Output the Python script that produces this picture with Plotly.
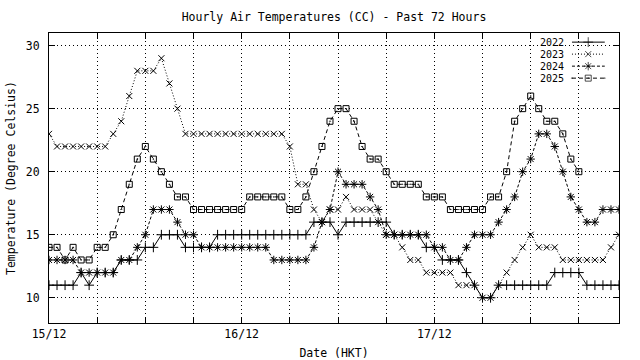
import plotly.graph_objects as go

# ---------------- data ----------------
hours = list(range(72))
day_ticks = list(range(0, 72, 6))
day_labels = ["15/12", "", "", "", "16/12", "", "", "", "17/12", "", "", ""]
y_ticks = [10, 15, 20, 25, 30]
years = ["2022", "2023", "2024", "2025"]

temp_2022 = [11, 11, 11, 11, 12, 11, 12, 12, 12, 13, 13, 13,
             14, 14, 15, 15, 15, 14, 14, 14, 14, 15, 15, 15,
             15, 15, 15, 15, 15, 15, 15, 15, 15, 16, 16, 16,
             15, 16, 16, 16, 16, 16, 16, 15, 15, 15, 15, 14,
             14, 13, 13, 13, 12, 11, 10, 10, 11, 11, 11, 11,
             11, 11, 11, 12, 12, 12, 12, 11, 11, 11, 11, 11]
temp_2023 = [23, 22, 22, 22, 22, 22, 22, 22, 23, 24, 26, 28,
             28, 28, 29, 27, 25, 23, 23, 23, 23, 23, 23, 23,
             23, 23, 23, 23, 23, 23, 22, 19, 19, 17, 16, 17,
             17, 18, 17, 17, 17, 16, 15, 15, 14, 13, 13, 12,
             12, 12, 12, 11, 11, 11, 10, 10, 11, 12, 13, 14,
             15, 14, 14, 14, 13, 13, 13, 13, 13, 13, 14, 15]
temp_2024 = [13, 13, 13, 13, 12, 12, 12, 12, 12, 13, 13, 14,
             15, 17, 17, 17, 16, 15, 15, 14, 14, 14, 14, 14,
             14, 14, 14, 14, 13, 13, 13, 13, 13, 14, 16, 17,
             20, 19, 19, 19, 18, 17, 15, 15, 15, 15, 15, 15,
             14, 14, 13, 13, 14, 15, 15, 15, 16, 17, 18, 20,
             21, 23, 23, 22, 20, 18, 17, 16, 16, 17, 17, 17]
temp_2025 = [14, 14, 13, 14, 13, 13, 14, 14, 15, 17, 19, 21,
             22, 21, 20, 19, 18, 18, 17, 17, 17, 17, 17, 17,
             17, 18, 18, 18, 18, 18, 17, 17, 18, 20, 22, 24,
             25, 25, 24, 22, 21, 21, 20, 19, 19, 19, 19, 18,
             18, 18, 17, 17, 17, 17, 17, 18, 18, 20, 24, 25,
             26, 25, 24, 24, 23, 21, 20]

series = [temp_2022, temp_2023, temp_2024, temp_2025]

# ---------------- styles ----------------
FONT = "DejaVu Sans Mono"
FS = 11.5
KEY_FS = 10
styles = [
    dict(dash="solid", symbol="cross-thin-open", size=7),
    dict(dash="1px,2px", symbol="x-thin-open", size=6),
    dict(dash="3px,2px", symbol="asterisk-open", size=7),
    dict(dash="4px,3px", symbol="square-open-dot", size=6),
]

fig = go.Figure()
for name, vals, st in zip(years, series, styles):
    fig.add_trace(go.Scatter(
        x=hours[:len(vals)], y=vals, mode="lines+markers", name=name,
        line=dict(color="black", width=1, dash=st["dash"]),
        marker=dict(symbol=st["symbol"], size=st["size"], color="black",
                    line=dict(color="black", width=1)),
        showlegend=False))

# ---------------- compact key (gnuplot style) ----------------
key_x = [0.9175, 0.946, 0.975]
key_rows = [0.9685, 0.9271, 0.8857, 0.8443]
key_text_x = 0.907
for name, st, ry in zip(years, styles, key_rows):
    fig.add_trace(go.Scatter(
        x=key_x, y=[ry, ry, ry], xaxis="x2", yaxis="y2", mode="lines+markers",
        line=dict(color="black", width=1, dash=st["dash"]),
        marker=dict(symbol=st["symbol"], size=[0, st["size"], 0], color="black",
                    line=dict(color="black", width=1)),
        showlegend=False, hoverinfo="skip"))
    fig.add_annotation(xref="paper", yref="paper", x=key_text_x, y=ry,
                       xanchor="right", yanchor="middle", text=name,
                       showarrow=False,
                       font=dict(family=FONT, size=KEY_FS, color="black"))

fig.add_shape(type="rect", xref="paper", yref="paper", x0=0.849, x1=0.99,
              y0=0.822, y1=0.995, fillcolor="white", line=dict(width=0),
              layer="between")

# y-axis title placed like gnuplot's (close to the left edge)
fig.add_annotation(xref="paper", yref="paper", x=(11 - 49) / 570, y=0.5,
                   xanchor="center", yanchor="middle", textangle=-90,
                   text="Temperature (Degree Celsius)", showarrow=False,
                   font=dict(family=FONT, size=FS, color="black"))

axis_common = dict(
    showline=True, linecolor="black", linewidth=1, mirror="ticks",
    ticks="inside", ticklen=6, tickcolor="black", tickwidth=1,
    showgrid=True, gridcolor="black", gridwidth=1, griddash="1px,3px",
    zeroline=False, automargin=False,
    tickfont=dict(family=FONT, size=FS, color="black"),
)

fig.update_layout(
    width=640, height=360,
    margin=dict(l=49, r=21, t=33, b=37, autoexpand=False),
    paper_bgcolor="white", plot_bgcolor="white",
    font=dict(family=FONT, size=FS, color="black"),
    title=dict(text="Hourly Air Temperatures (CC) - Past 72 Hours",
               x=(49 + 619) / 2 / 640, xanchor="center",
               y=1 - 17 / 360, yanchor="middle", yref="container",
               font=dict(family=FONT, size=FS, color="black")),
    xaxis=dict(range=[0, 71], tickvals=day_ticks, ticktext=day_labels,
               title=dict(text="Date (HKT)", standoff=14,
                          font=dict(family=FONT, size=FS, color="black")),
               **axis_common),
    yaxis=dict(range=[8, 31], tickvals=y_ticks, ticklabelstandoff=6,
               **axis_common),
    xaxis2=dict(range=[0, 1], overlaying="x", anchor="y2", visible=False),
    yaxis2=dict(range=[0, 1], overlaying="y", anchor="x2", visible=False),
    showlegend=False,
)

fig.write_html(
    "out.html",
    config={"displayModeBar": False},
    post_script="document.body.style.margin='0';document.body.style.overflow='hidden';",
)
